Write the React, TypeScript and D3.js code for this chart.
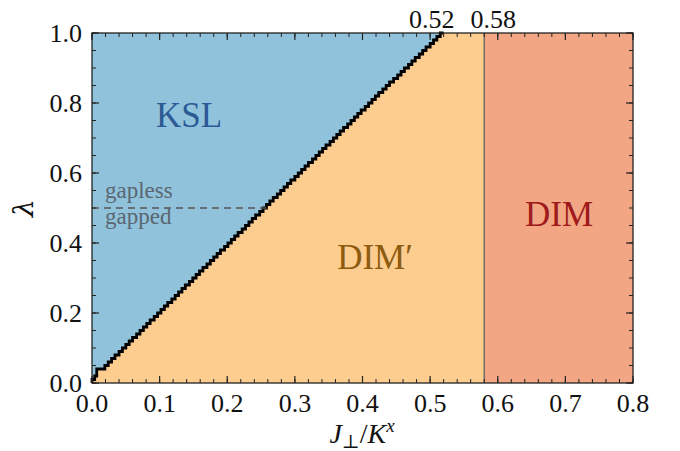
import React from "react";
import * as d3 from "d3";

// phase boundary between KSL and DIM' : lambda levels and J_perp/K^x boundary values
const lambdaLevels: number[] = [
  0.00, 0.01, 0.02, 0.03, 0.04, 0.05, 0.06, 0.07, 0.08, 0.09,
  0.10, 0.11, 0.12, 0.13, 0.14, 0.15, 0.16, 0.17, 0.18, 0.19,
  0.20, 0.21, 0.22, 0.23, 0.24, 0.25, 0.26, 0.27, 0.28, 0.29,
  0.30, 0.31, 0.32, 0.33, 0.34, 0.35, 0.36, 0.37, 0.38, 0.39,
  0.40, 0.41, 0.42, 0.43, 0.44, 0.45, 0.46, 0.47, 0.48, 0.49,
  0.50, 0.51, 0.52, 0.53, 0.54, 0.55, 0.56, 0.57, 0.58, 0.59,
  0.60, 0.61, 0.62, 0.63, 0.64, 0.65, 0.66, 0.67, 0.68, 0.69,
  0.70, 0.71, 0.72, 0.73, 0.74, 0.75, 0.76, 0.77, 0.78, 0.79,
  0.80, 0.81, 0.82, 0.83, 0.84, 0.85, 0.86, 0.87, 0.88, 0.89,
  0.90, 0.91, 0.92, 0.93, 0.94, 0.95, 0.96, 0.97, 0.98, 0.99,
  1.00,
];
const boundaryJ: number[] = [
  0.000, 0.004, 0.007, 0.007, 0.019, 0.024, 0.029, 0.034, 0.040, 0.045,
  0.050, 0.055, 0.060, 0.066, 0.071, 0.076, 0.081, 0.086, 0.092, 0.097,
  0.102, 0.107, 0.112, 0.118, 0.123, 0.128, 0.133, 0.138, 0.144, 0.149,
  0.154, 0.159, 0.164, 0.170, 0.175, 0.180, 0.185, 0.190, 0.196, 0.201,
  0.206, 0.211, 0.216, 0.222, 0.227, 0.232, 0.237, 0.242, 0.248, 0.253,
  0.258, 0.263, 0.268, 0.274, 0.279, 0.284, 0.289, 0.294, 0.300, 0.305,
  0.310, 0.315, 0.320, 0.326, 0.331, 0.336, 0.341, 0.346, 0.352, 0.357,
  0.362, 0.367, 0.372, 0.378, 0.383, 0.388, 0.393, 0.398, 0.404, 0.409,
  0.414, 0.419, 0.424, 0.430, 0.435, 0.440, 0.446, 0.452, 0.457, 0.462,
  0.468, 0.473, 0.478, 0.484, 0.489, 0.494, 0.500, 0.505, 0.510, 0.515,
  0.520,
];
const dimTransition = 0.58;
const kslTop = 0.52;
const gapLambda = 0.5;

const xTicks = [0.0, 0.1, 0.2, 0.3, 0.4, 0.5, 0.6, 0.7, 0.8];
const yTicks = [0.0, 0.2, 0.4, 0.6, 0.8, 1.0];
const xMinor = d3.range(0, 0.8001, 0.02);
const yMinor = d3.range(0, 1.0001, 0.05);

const W = 680, H = 451;
const FONT = '"DejaVu Serif", "Liberation Serif", serif';
const LIB = '"Liberation Serif", "DejaVu Serif", serif';

export default function App() {
  const x = d3.scaleLinear().domain([0, 0.8]).range([92, 633]);
  const y = d3.scaleLinear().domain([0, 1]).range([383, 33]);

  const pts: [number, number][] = boundaryJ.map((b, i) => [b, lambdaLevels[i]]);
  const line = d3
    .line<[number, number]>()
    .x((d) => x(d[0]))
    .y((d) => y(d[1]))
    .curve(d3.curveStepBefore);

  const kslPath = line([...pts, [0, 1]]) + "Z";
  const boundaryPath = line(pts) as string;

  const gapIdx = lambdaLevels.findIndex((l) => Math.abs(l - gapLambda) < 1e-9);
  const gapEnd = boundaryJ[gapIdx];

  const [x0, x1] = x.range();
  const [y0, y1] = y.range();

  const tStyle = { fontFamily: LIB };

  return (
    <svg
      width={W}
      height={H}
      style={{ position: "absolute", left: 0, top: 0, display: "block", background: "#fff", fontFamily: LIB }}
    >
      {/* regions */}
      <rect x={x(0)} y={y(1)} width={x(dimTransition) - x(0)} height={y(0) - y(1)} fill="#fdcd90" />
      <path d={kslPath} fill="#90c3db" />
      <rect x={x(dimTransition)} y={y(1)} width={x(0.8) - x(dimTransition)} height={y(0) - y(1)} fill="#f2a683" />
      <line x1={x(dimTransition)} x2={x(dimTransition)} y1={y(0)} y2={y(1)} stroke="#555" strokeWidth={1.2} />
      <path d={boundaryPath} fill="none" stroke="#000" strokeWidth={2.8} strokeLinejoin="miter" />

      {/* gapless / gapped */}
      <line x1={x(0)} x2={x(gapEnd)} y1={y(gapLambda)} y2={y(gapLambda)} stroke="#555" strokeWidth={1.3} strokeDasharray="7,5" />
      <text x={105} y={198} fontSize={23} fill="#5a6670" style={tStyle}>gapless</text>
      <text x={105} y={224} fontSize={23} fill="#5a6670" style={tStyle}>gapped</text>

      {/* region labels */}
      <text x={189} y={127} fontSize={35} fill="#2b5a94" textAnchor="middle" style={tStyle}>KSL</text>
      <text x={375} y={269} fontSize={35} fill="#8c5b10" textAnchor="middle" style={tStyle}>DIM′</text>
      <text x={559} y={226} fontSize={35} fill="#a01a1c" textAnchor="middle" style={tStyle}>DIM</text>

      {/* frame */}
      <rect x={x0} y={y1} width={x1 - x0} height={y0 - y1} fill="none" stroke="#222" strokeWidth={1.3} />

      {/* ticks */}
      {xMinor.map((v, i) => (
        <g key={"xm" + i}>
          <line x1={x(v)} x2={x(v)} y1={y0} y2={y0 - 4} stroke="#222" strokeWidth={1} />
          <line x1={x(v)} x2={x(v)} y1={y1} y2={y1 + 4} stroke="#222" strokeWidth={1} />
        </g>
      ))}
      {xTicks.map((v, i) => (
        <g key={"xt" + i}>
          <line x1={x(v)} x2={x(v)} y1={y0} y2={y0 - 7} stroke="#222" strokeWidth={1.2} />
          <line x1={x(v)} x2={x(v)} y1={y1} y2={y1 + 7} stroke="#222" strokeWidth={1.2} />
          <text x={x(v)} y={412} fontSize={26} textAnchor="middle" fill="#111" style={tStyle}>{v.toFixed(1)}</text>
        </g>
      ))}
      {yMinor.map((v, i) => (
        <g key={"ym" + i}>
          <line x1={x0} x2={x0 + 4} y1={y(v)} y2={y(v)} stroke="#222" strokeWidth={1} />
          <line x1={x1} x2={x1 - 4} y1={y(v)} y2={y(v)} stroke="#222" strokeWidth={1} />
        </g>
      ))}
      {yTicks.map((v, i) => (
        <g key={"yt" + i}>
          <line x1={x0} x2={x0 + 7} y1={y(v)} y2={y(v)} stroke="#222" strokeWidth={1.2} />
          <line x1={x1} x2={x1 - 7} y1={y(v)} y2={y(v)} stroke="#222" strokeWidth={1.2} />
          <text x={82} y={y(v) + 9} fontSize={26} textAnchor="end" fill="#111" style={tStyle}>{v.toFixed(1)}</text>
        </g>
      ))}

      {/* top annotations */}
      <text x={x(kslTop) - 12} y={28} fontSize={26} textAnchor="middle" fill="#111" style={tStyle}>{kslTop.toFixed(2)}</text>
      <text x={x(dimTransition) + 9} y={28} fontSize={26} textAnchor="middle" fill="#111" style={tStyle}>{dimTransition.toFixed(2)}</text>

      {/* axis labels */}
      <text x={362} y={443} fontSize={28} textAnchor="middle" fill="#111" style={tStyle}>
        <tspan fontStyle="italic">J</tspan>
        <tspan fontSize={19} dy={5}>⊥</tspan>
        <tspan dy={-5}>/</tspan>
        <tspan fontStyle="italic">K</tspan>
        <tspan fontStyle="italic" fontSize={19} dy={-11}>x</tspan>
      </text>
      <text transform="translate(33,208) rotate(-90)" fontSize={28} textAnchor="middle" fontStyle="italic" fill="#111" style={{ fontFamily: FONT }}>λ</text>
    </svg>
  );
}
